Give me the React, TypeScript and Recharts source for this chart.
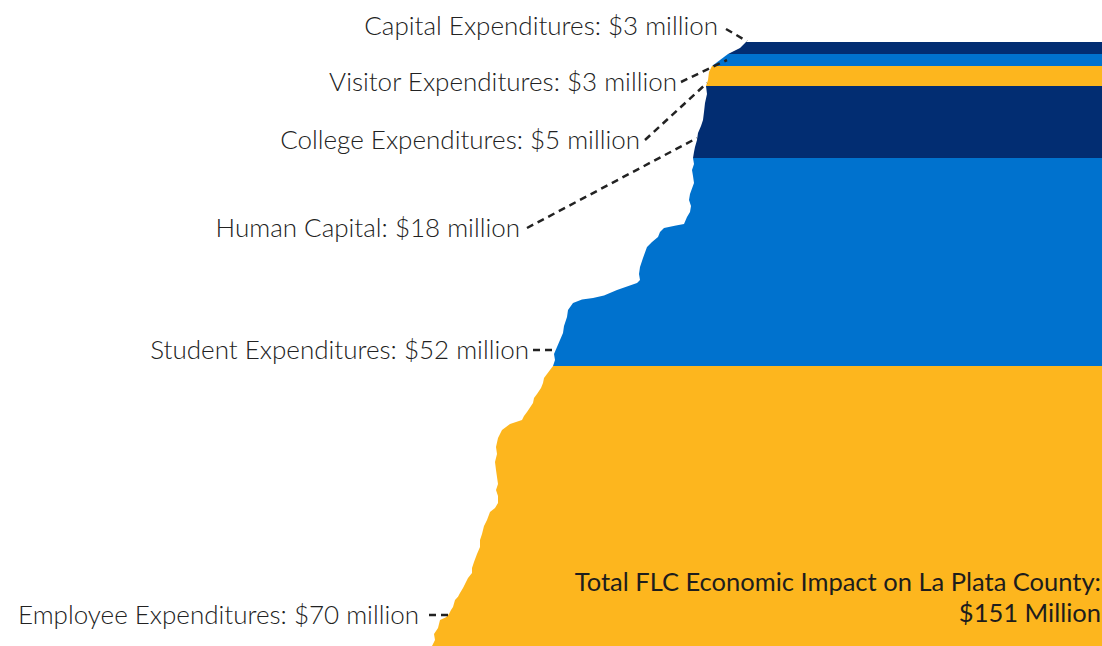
import React from 'react';
import { AreaChart, Area, XAxis, YAxis, ReferenceLine, ReferenceDot } from 'recharts';

// Bands from bottom to top (values in $ million)
const bandNames = [
  'Employee Expenditures',
  'Student Expenditures',
  'Human Capital',
  'College Expenditures',
  'Visitor Expenditures',
  'Capital Expenditures',
];
const bandValues = [70, 52, 18, 5, 3, 3];
const bandColors = ['#FDB61E', '#0072CE', '#022D72', '#FDB61E', '#0072CE', '#022D72'];
const bandLabels = [
  'Employee Expenditures: $70 million',
  'Student Expenditures: $52 million',
  'Human Capital: $18 million',
  'College Expenditures: $5 million',
  'Visitor Expenditures: $3 million',
  'Capital Expenditures: $3 million',
];
const totalLines = ['Total FLC Economic Impact on La Plata County:', '$151 Million'];

// Torn left edge of the stack: cumulative value (from bottom) -> horizontal edge position
const edgeProfile = [
  { v: 0, edge: 432 }, { v: 1.5, edge: 435 }, { v: 3, edge: 434 }, { v: 4.5, edge: 438 },
  { v: 6.5, edge: 440 }, { v: 7.2, edge: 446 }, { v: 8, edge: 449 }, { v: 9, edge: 451 },
  { v: 9.75, edge: 453 }, { v: 11.5, edge: 455 }, { v: 12.3, edge: 458 }, { v: 13.25, edge: 460 },
  { v: 14.5, edge: 463 }, { v: 16, edge: 466 }, { v: 17, edge: 468 }, { v: 18.25, edge: 472 },
  { v: 19.5, edge: 472 }, { v: 21, edge: 474 }, { v: 23, edge: 477 }, { v: 24.75, edge: 480 },
  { v: 26.5, edge: 480 }, { v: 28, edge: 482 }, { v: 30, edge: 484 }, { v: 31.5, edge: 487 },
  { v: 33.5, edge: 490 }, { v: 34.5, edge: 495 }, { v: 35.75, edge: 498 }, { v: 37.5, edge: 498 },
  { v: 39, edge: 496 }, { v: 40.5, edge: 498 }, { v: 42.25, edge: 497 }, { v: 44, edge: 496 },
  { v: 46, edge: 495 }, { v: 48, edge: 497 }, { v: 49.75, edge: 496 }, { v: 52, edge: 498 },
  { v: 54, edge: 502 }, { v: 55.5, edge: 510 }, { v: 56.5, edge: 522 }, { v: 57.5, edge: 524 },
  { v: 58.5, edge: 527 }, { v: 60.75, edge: 533 }, { v: 62, edge: 534 }, { v: 63, edge: 537 },
  { v: 64.5, edge: 541 }, { v: 65.75, edge: 543 }, { v: 67, edge: 544 }, { v: 68, edge: 547 },
  { v: 70, edge: 553 }, { v: 71.5, edge: 555 }, { v: 73, edge: 554 }, { v: 74.75, edge: 557 },
  { v: 76.5, edge: 560 }, { v: 78.25, edge: 563 }, { v: 80, edge: 564 }, { v: 82.25, edge: 567 },
  { v: 84, edge: 568 }, { v: 85.75, edge: 573 }, { v: 86.6, edge: 582 }, { v: 87, edge: 593 },
  { v: 87.6, edge: 604 }, { v: 89, edge: 617 }, { v: 90.75, edge: 637 }, { v: 91.5, edge: 640 },
  { v: 93, edge: 639 }, { v: 94.75, edge: 640 }, { v: 97, edge: 643 }, { v: 99.75, edge: 647 },
  { v: 101, edge: 652 }, { v: 102.25, edge: 658 }, { v: 103.5, edge: 660 }, { v: 104.5, edge: 664 },
  { v: 105.1, edge: 676 }, { v: 105.5, edge: 684 }, { v: 107.25, edge: 687 }, { v: 108.5, edge: 690 },
  { v: 110, edge: 691 }, { v: 111.5, edge: 689 }, { v: 113, edge: 690 }, { v: 115.75, edge: 694 },
  { v: 117.5, edge: 693 }, { v: 119, edge: 692 }, { v: 120.5, edge: 694 }, { v: 122, edge: 693 },
  { v: 123.5, edge: 694 }, { v: 124.75, edge: 695 }, { v: 126.5, edge: 697 }, { v: 128.25, edge: 698 },
  { v: 130, edge: 701 }, { v: 131.5, edge: 703 }, { v: 133.5, edge: 704 }, { v: 135.75, edge: 705 },
  { v: 138, edge: 707 }, { v: 140, edge: 706 }, { v: 141.5, edge: 708 }, { v: 143.5, edge: 709 },
  { v: 145, edge: 712 }, { v: 146.5, edge: 720 }, { v: 148, edge: 728 }, { v: 149.5, edge: 740 },
  { v: 151, edge: 746 },
];

// Callout label anchors (same order as bands)
const labelV = [7.75, 74, 104.5, 126.5, 141, 155];
const labelEnd = [419, 529, 520, 640, 677, 718];
const leaderFrom = [
  { x: 429, y: 7.75 }, { x: 533, y: 74 }, { x: 527, y: 104.5 },
  { x: 645, y: 126.5 }, { x: 681, y: 141 }, { x: 726, y: 154.25 },
];
const leaderTo = [
  { x: 452, y: 7.75 }, { x: 557, y: 74 }, { x: 697, y: 127 },
  { x: 707, y: 140.75 }, { x: 727, y: 146.5 }, { x: 747, y: 151.2 },
];
const totalV = [16, 8.25];

const RIGHT = 1102;
const TOTAL = bandValues.reduce((a, b) => a + b, 0);

const starts: number[] = [];
bandValues.reduce((acc, val, i) => {
  starts[i] = acc;
  return acc + val;
}, 0);

const labelFont = { fontFamily: 'Lato', fontWeight: 300, fontSize: 26, fill: '#222222' };
const totalFont = { fontFamily: 'Lato', fontWeight: 400, fontSize: 25.5, fill: '#1d1d1d' };

export default function App() {
  return (
    <div style={{ position: 'absolute', left: 0, top: 0, width: 1102, height: 646, background: '#fff' }}>
      <AreaChart
        width={1102}
        height={646}
        layout="vertical"
        data={edgeProfile}
        margin={{ top: 42, right: 0, bottom: 0, left: 0 }}
      >
        <XAxis type="number" domain={[0, RIGHT]} hide />
        <YAxis type="number" dataKey="v" domain={[0, TOTAL]} reversed hide />
        {bandValues.map((val, i) => {
          const lo = starts[i];
          const hi = starts[i] + val;
          return (
            <Area
              key={bandNames[i]}
              name={bandNames[i]}
              type="linear"
              dataKey={(row: { v: number; edge: number }) =>
                row.v >= lo && row.v <= hi ? [row.edge, RIGHT] : null
              }
              fill={bandColors[i]}
              fillOpacity={1}
              stroke="none"
              dot={false}
              activeDot={false}
              isAnimationActive={false}
            />
          );
        })}
        {bandLabels.map((_, i) => (
          <ReferenceLine
            key={'l' + i}
            segment={[leaderFrom[i], leaderTo[i]]}
            stroke="#222222"
            strokeWidth={2.5}
            strokeDasharray="7 5"
            ifOverflow="visible"
          />
        ))}
        {bandLabels.map((text, i) => (
          <ReferenceDot
            key={'t' + i}
            x={labelEnd[i]}
            y={labelV[i]}
            r={0}
            fill="none"
            stroke="none"
            ifOverflow="visible"
            label={{ value: text, position: 'left', offset: 0, ...labelFont }}
          />
        ))}
        {totalLines.map((text, i) => (
          <ReferenceDot
            key={'s' + i}
            x={RIGHT}
            y={totalV[i]}
            r={0}
            fill="none"
            stroke="none"
            ifOverflow="visible"
            label={{ value: text, position: 'left', offset: 1, ...totalFont }}
          />
        ))}
      </AreaChart>
    </div>
  );
}
